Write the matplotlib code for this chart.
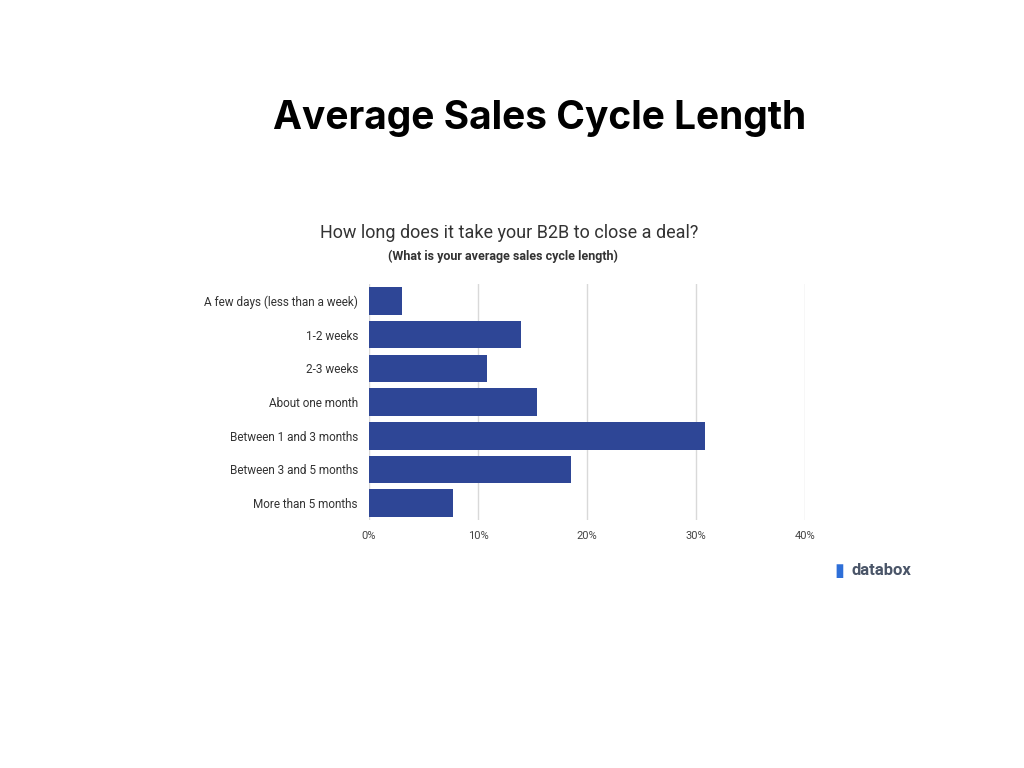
import matplotlib
matplotlib.use("Agg")
import matplotlib.pyplot as plt

categories = ["A few days (less than a week)", "1-2 weeks", "2-3 weeks", "About one month",
              "Between 1 and 3 months", "Between 3 and 5 months", "More than 5 months"]
values = [3.0, 13.9, 10.8, 15.4, 30.8, 18.5, 7.7]
ticks = [0, 10, 20, 30, 40]
tick_labels = ["0%", "10%", "20%", "30%", "40%"]

plt.rcParams['font.family'] = ['Roboto', 'DejaVu Sans']
fig = plt.figure(figsize=(10.24, 7.68), dpi=100)
fig.patch.set_facecolor("white")
ax = fig.add_axes([0.3604, 0.323, 0.4258, 0.307])
y = list(range(len(categories)))
ax.barh(y, values, height=0.82, color="#2e4696", zorder=3)
ax.set_ylim(len(categories) - 0.5, -0.5)
ax.set_xlim(0, 40)
ax.set_xticks(ticks)
ax.set_xticklabels(tick_labels, fontsize=8, color="#444444")
ax.set_yticks(y)
ax.set_yticklabels(categories, fontsize=8.5, color="#333333")
ax.grid(axis="x", color="#d9d9d9", linewidth=1, zorder=0)
for s in ax.spines.values():
    s.set_visible(False)
ax.tick_params(length=0, pad=8)

fig.text(0.527, 0.846, "Average Sales Cycle Length", ha="center", va="center",
         fontsize=28, fontweight="bold", color="black", family=['Inter', 'DejaVu Sans'])
fig.text(0.497, 0.696, "How long does it take your B2B to close a deal?", ha="center",
         va="center", fontsize=13, color="#333333")
fig.text(0.491, 0.666, "(What is your average sales cycle length)", ha="center",
         va="center", fontsize=9, fontweight="bold", color="#333333")
fig.text(0.832, 0.257, "databox", ha="left", va="center", fontsize=12,
         fontweight="bold", color="#4a5568")
fig.text(0.820, 0.257, "▮", ha="center", va="center", fontsize=13, color="#2e6fd8")
fig.savefig("out.png", dpi=100, facecolor="white")
